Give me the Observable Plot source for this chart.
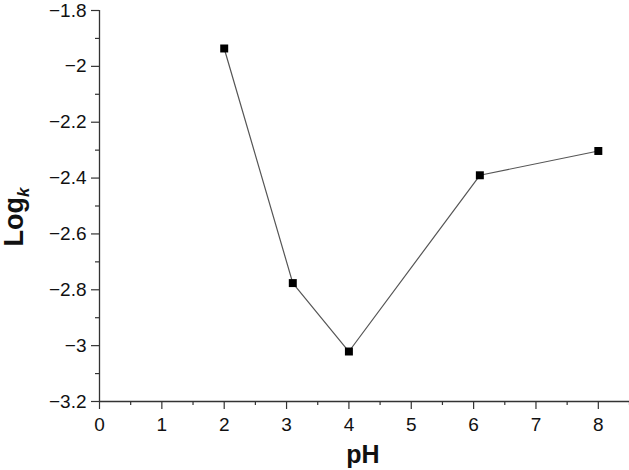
<!DOCTYPE html>
<html>
<head>
<meta charset="utf-8">
<script src="https://cdn.jsdelivr.net/npm/d3@7"></script>
<script src="https://cdn.jsdelivr.net/npm/@observablehq/plot@0.6"></script>
<style>
  html, body { margin: 0; padding: 0; background: #fff; }
  #chart svg { display: block; }
</style>
</head>
<body>
<div id="chart"></div>
<script>
const pH = [2, 3.1, 4, 6.1, 8];
const logk = [-1.936, -2.776, -3.021, -2.39, -2.303];
const xMajor = [0, 1, 2, 3, 4, 5, 6, 7, 8];
const xMinor = [0.5, 1.5, 2.5, 3.5, 4.5, 5.5, 6.5, 7.5, 8.5];
const yMajor = [-3.2, -3, -2.8, -2.6, -2.4, -2.2, -2, -1.8];
const yMinor = [-3.1, -2.9, -2.7, -2.5, -2.3, -2.1, -1.9];

const data = pH.map((x, i) => ({x, y: logk[i]}));
const fmt = d => String(d).replace("-", "\u2212");

const chart = Plot.plot({
  width: 629,
  height: 470,
  marginLeft: 99,
  marginRight: 0,
  marginTop: 10,
  marginBottom: 69,
  style: {fontFamily: "'Liberation Sans', Arial, sans-serif", background: "#fff"},
  x: {domain: [0, 8.5], label: null},
  y: {domain: [-3.2, -1.8], label: null},
  marks: [
    Plot.axisX(xMinor, {tickSize: 4, tickFormat: () => "", stroke: "#333", strokeWidth: 1.2, label: null}),
    Plot.axisX(xMajor, {tickSize: 8, tickPadding: 8, fontSize: 19, fill: "#111", stroke: "#333", strokeWidth: 1.2, label: null, tickFormat: fmt}),
    Plot.axisY(yMinor, {tickSize: 4, tickFormat: () => "", stroke: "#333", strokeWidth: 1.2, label: null}),
    Plot.axisY(yMajor, {tickSize: 8, tickPadding: 5, fontSize: 19, fill: "#111", stroke: "#333", strokeWidth: 1.2, label: null, tickFormat: fmt}),
    Plot.ruleX([0], {stroke: "#333", strokeWidth: 1.3}),
    Plot.ruleY([-3.2], {stroke: "#333", strokeWidth: 1.3}),
    Plot.line(data, {x: "x", y: "y", stroke: "#555", strokeWidth: 1.2}),
    Plot.dot(data, {x: "x", y: "y", symbol: "square", r: 4.5, fill: "#000", stroke: "none"})
  ]
});

const svg = d3.select(chart);
svg.append("text")
  .attr("x", 363).attr("y", 463)
  .attr("text-anchor", "middle")
  .attr("font-size", 25).attr("font-weight", "bold").attr("fill", "#111")
  .text("pH");

const yl = svg.append("text")
  .attr("transform", "translate(23,217) rotate(-90)")
  .attr("text-anchor", "middle")
  .attr("font-size", 27).attr("font-weight", "bold").attr("fill", "#111");
yl.append("tspan").text("Log");
yl.append("tspan").attr("font-style", "italic").attr("font-size", 17).attr("dy", 6).text("k");

document.getElementById("chart").appendChild(chart);
</script>
</body>
</html>
